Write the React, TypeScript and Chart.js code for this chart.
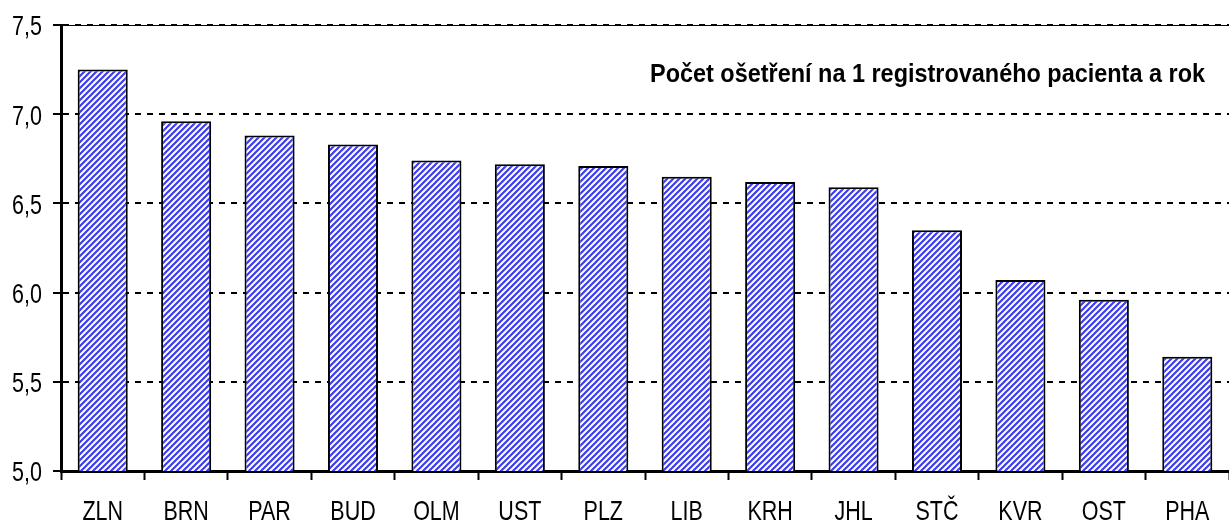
import React, { useEffect, useRef } from "react";
import { Chart, registerables } from "chart.js";

Chart.register(...registerables);

const categories = ["ZLN", "BRN", "PAR", "BUD", "OLM", "UST", "PLZ", "LIB", "KRH", "JHL", "STČ", "KVR", "OST", "PHA"];
const values = [7.25, 6.96, 6.88, 6.83, 6.74, 6.72, 6.71, 6.65, 6.62, 6.59, 6.35, 6.07, 5.96, 5.64];
const yMin = 5.0;
const yMax = 7.5;
const yStep = 0.5;
const yTickLabels = ["5,0", "5,5", "6,0", "6,5", "7,0", "7,5"];
const titleText = "Počet ošetření na 1 registrovaného pacienta a rok";

const FONT = "'Liberation Sans', Arial, sans-serif";

function makePattern(): CanvasPattern | string {
  const c = document.createElement("canvas");
  const s = 6;
  c.width = s;
  c.height = s;
  const g = c.getContext("2d");
  if (!g) return "#6666ff";
  g.fillStyle = "#ffffff";
  g.fillRect(0, 0, s, s);
  g.strokeStyle = "#3c3cf0";
  g.lineWidth = 2.2;
  g.beginPath();
  g.moveTo(-1, s + 1);
  g.lineTo(s + 1, -1);
  g.moveTo(-1, 1);
  g.lineTo(1, -1);
  g.moveTo(s - 1, s + 1);
  g.lineTo(s + 1, s - 1);
  g.stroke();
  const p = g.createPattern(c, "repeat");
  return p || "#6666ff";
}

function stretchedText(ctx: CanvasRenderingContext2D, text: string, x: number, y: number, align: CanvasTextAlign, sy: number) {
  ctx.save();
  ctx.translate(x, y);
  ctx.scale(1, sy);
  ctx.textAlign = align;
  ctx.textBaseline = "alphabetic";
  ctx.fillText(text, 0, 0);
  ctx.restore();
}

export default function App() {
  const ref = useRef<HTMLCanvasElement | null>(null);

  useEffect(() => {
    document.body.style.margin = "0";
    const canvas = ref.current;
    if (!canvas) return;
    const pattern = makePattern();

    const textPlugin = {
      id: "textLabels",
      beforeDatasetsDraw(chart: any) {
        const ctx = chart.ctx;
        const area = chart.chartArea;
        ctx.save();
        ctx.strokeStyle = "#000";
        ctx.lineWidth = 1;
        ctx.beginPath();
        ctx.moveTo(area.left, area.top + 0.5);
        ctx.lineTo(area.right, area.top + 0.5);
        ctx.stroke();
        ctx.restore();
      },
      afterDraw(chart: any) {
        const ctx = chart.ctx;
        const xs = chart.scales.x;
        const ys = chart.scales.y;
        ctx.save();
        ctx.fillStyle = "#000";
        ctx.font = "21.5px " + FONT;
        yTickLabels.forEach((t, i) => {
          const py = ys.getPixelForValue(yMin + i * yStep);
          stretchedText(ctx, t, 42, py + 10.3, "right", 1.3);
        });
        categories.forEach((c, i) => {
          const px = xs.getPixelForTick(i);
          stretchedText(ctx, c, px, 519.5, "center", 1.3);
        });
        ctx.font = "bold 23.5px " + FONT;
        const w = ctx.measureText(titleText).width;
        ctx.save();
        ctx.translate(1205, 81.5);
        ctx.scale(555 / w, 1.13);
        ctx.textAlign = "right";
        ctx.textBaseline = "alphabetic";
        ctx.fillText(titleText, 0, 0);
        ctx.restore();
        ctx.restore();
      },
    };

    const chart = new Chart(canvas, {
      type: "bar",
      data: {
        labels: categories,
        datasets: [
          {
            data: values,
            backgroundColor: pattern as any,
            borderColor: "#000",
            borderWidth: 2,
            barPercentage: 0.6,
            categoryPercentage: 1,
          },
        ],
      },
      options: {
        animation: false,
        responsive: false,
        maintainAspectRatio: false,
        layout: { padding: { top: 25, right: 0, left: 0, bottom: 0 } },
        plugins: { legend: { display: false }, tooltip: { enabled: false }, title: { display: false } },
        scales: {
          x: {
            offset: true,
            grid: {
              display: true,
              offset: true,
              drawOnChartArea: false,
              drawTicks: true,
              tickLength: 9,
              tickColor: "#000",
              tickWidth: 2,
              color: "#000",
            },
            border: { display: true, color: "#000", width: 3 },
            ticks: { display: false, autoSkip: false },
            afterFit(scale: any) {
              scale.height = 50;
            },
          },
          y: {
            min: yMin,
            max: yMax,
            grid: {
              color: "#000",
              lineWidth: 2,
              drawTicks: true,
              tickLength: 8,
              tickColor: "#000",
              tickWidth: 2,
              tickBorderDash: [],
            },
            border: { display: true, color: "#000", width: 3, dash: [6, 6] },
            ticks: { display: false, stepSize: yStep },
            afterFit(scale: any) {
              scale.width = 61;
            },
          },
        },
      },
      plugins: [textPlugin],
    });
    return () => chart.destroy();
  }, []);

  return (
    <div style={{ width: 1229, height: 521 }}>
      <canvas ref={ref} width={1229} height={521} style={{ display: "block" }} />
    </div>
  );
}
